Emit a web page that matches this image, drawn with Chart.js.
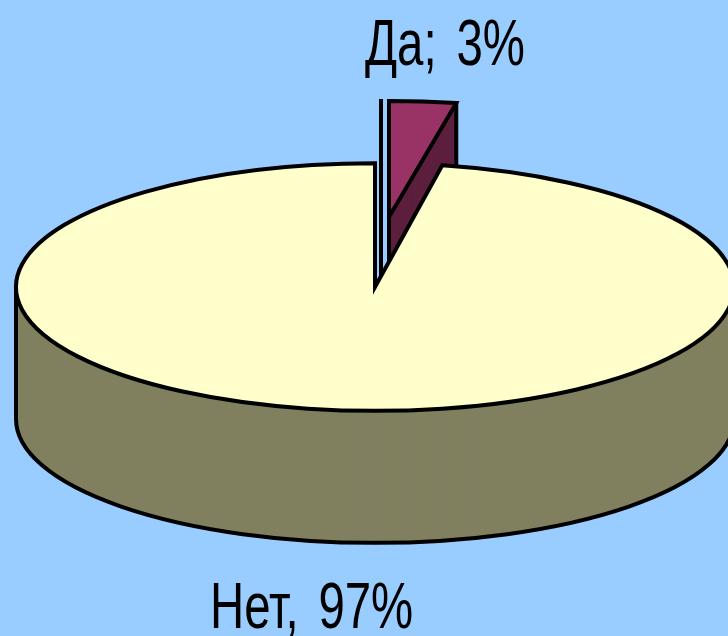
<html>

<head>
  <script src="https://cdn.jsdelivr.net/npm/chart.js@4"></script>
  <style>
    body { margin: 0; background: #99ccff; overflow: hidden; }
    canvas { display: block; }
  </style>
</head>

<body>
  <canvas id="pieChart" width="728" height="636"></canvas>
  <script>
    // Chart data.
    const categories = ['Да', 'Нет'];
    const percents = [3, 97];
    const separators = [';', ','];

    // Look of the tilted disc.
    const topColors = ['#993366', '#ffffcc'];
    const sideColors = ['#5c1f3d', '#808060'];
    const squash = [0.323, 0.345];
    const shiftX = [14, 0];
    const shiftY = [-70, 0];
    const depth = 132;
    const lineWidth = 4;

    function tilt(ctx, arc, i, down) {
      ctx.translate(arc.x + shiftX[i], arc.y + shiftY[i] + down);
      ctx.scale(1, squash[i]);
      ctx.translate(-arc.x, -arc.y);
    }

    // Pile up the arc in the side colour, then put the top face on it.
    function drawSolid(ctx, arc, i) {
      const options = arc.options;
      arc.options = { ...options, backgroundColor: sideColors[i] };
      for (let down = depth; down > 0; down--) {
        ctx.save();
        tilt(ctx, arc, i, down);
        arc.draw(ctx);
        ctx.restore();
      }
      arc.options = options;
      ctx.save();
      tilt(ctx, arc, i, 0);
      arc.draw(ctx);
      ctx.restore();
    }

    // Outlines are stroked after the transform is gone so they keep an even width.
    function outlineTop(ctx, arc, i) {
      ctx.save();
      tilt(ctx, arc, i, 0);
      ctx.beginPath();
      ctx.moveTo(arc.x, arc.y);
      ctx.arc(arc.x, arc.y, arc.outerRadius, arc.startAngle, arc.endAngle);
      ctx.closePath();
      ctx.restore();
      ctx.stroke();
    }

    function outlineWall(ctx, arc, i) {
      const left = arc.x - arc.outerRadius + shiftX[i];
      const right = arc.x + arc.outerRadius + shiftX[i];
      const top = arc.y + shiftY[i];
      ctx.save();
      tilt(ctx, arc, i, depth);
      ctx.beginPath();
      ctx.arc(arc.x, arc.y, arc.outerRadius, Math.PI, 0, true);
      ctx.restore();
      ctx.stroke();
      ctx.beginPath();
      ctx.moveTo(left, top);
      ctx.lineTo(left, top + depth);
      ctx.moveTo(right, top);
      ctx.lineTo(right, top + depth);
      ctx.stroke();
    }

    function outlineSliceWall(ctx, arc, i) {
      const tipX = arc.x + shiftX[i];
      const tipY = arc.y + shiftY[i];
      const endX = arc.x + Math.cos(arc.endAngle) * arc.outerRadius + shiftX[i];
      const endY = arc.y + Math.sin(arc.endAngle) * arc.outerRadius * squash[i] + shiftY[i];
      ctx.beginPath();
      ctx.moveTo(tipX, tipY);
      ctx.lineTo(tipX, tipY + depth);
      ctx.moveTo(endX, endY);
      ctx.lineTo(endX, endY + depth);
      ctx.stroke();
    }

    function drawLabel(ctx, text, x, y) {
      ctx.save();
      ctx.translate(x, y);
      ctx.scale(0.74, 1);
      ctx.font = '64px "Liberation Sans"';
      ctx.wordSpacing = '9px';
      ctx.textAlign = 'left';
      ctx.fillStyle = '#000';
      ctx.fillText(text, 0, 0);
      ctx.restore();
    }

    const tiltedPie = {
      id: 'tiltedPie',
      beforeDatasetsDraw(chart) {
        const ctx = chart.ctx;
        const arcs = chart.getDatasetMeta(0).data;
        const slice = arcs[0];
        const rest = arcs[1];
        ctx.strokeStyle = '#000';
        ctx.lineWidth = lineWidth;
        ctx.lineJoin = 'miter';

        // Thin line standing in the gap.
        ctx.beginPath();
        ctx.moveTo(slice.x + 6, slice.y - 188);
        ctx.lineTo(slice.x + 6, slice.y - 8);
        ctx.stroke();

        drawSolid(ctx, slice, 0);
        outlineSliceWall(ctx, slice, 0);
        outlineTop(ctx, slice, 0);

        drawSolid(ctx, rest, 1);
        outlineWall(ctx, rest, 1);
        outlineTop(ctx, rest, 1);
        return false;
      },
      afterDraw(chart) {
        const ctx = chart.ctx;
        drawLabel(ctx, categories[0] + separators[0] + ' ' + percents[0] + '%', 365, 65);
        drawLabel(ctx, categories[1] + separators[1] + ' ' + percents[1] + '%', 210, 628);
      }
    };

    new Chart(document.getElementById('pieChart'), {
      type: 'pie',
      data: {
        labels: categories,
        datasets: [{
          data: percents,
          backgroundColor: topColors,
          borderWidth: 0
        }]
      },
      options: {
        responsive: false,
        animation: false,
        radius: 359,
        layout: { padding: { left: 22, bottom: 62 } },
        plugins: { legend: { display: false }, tooltip: { enabled: false } }
      },
      plugins: [tiltedPie]
    });
  </script>
</body>

</html>
